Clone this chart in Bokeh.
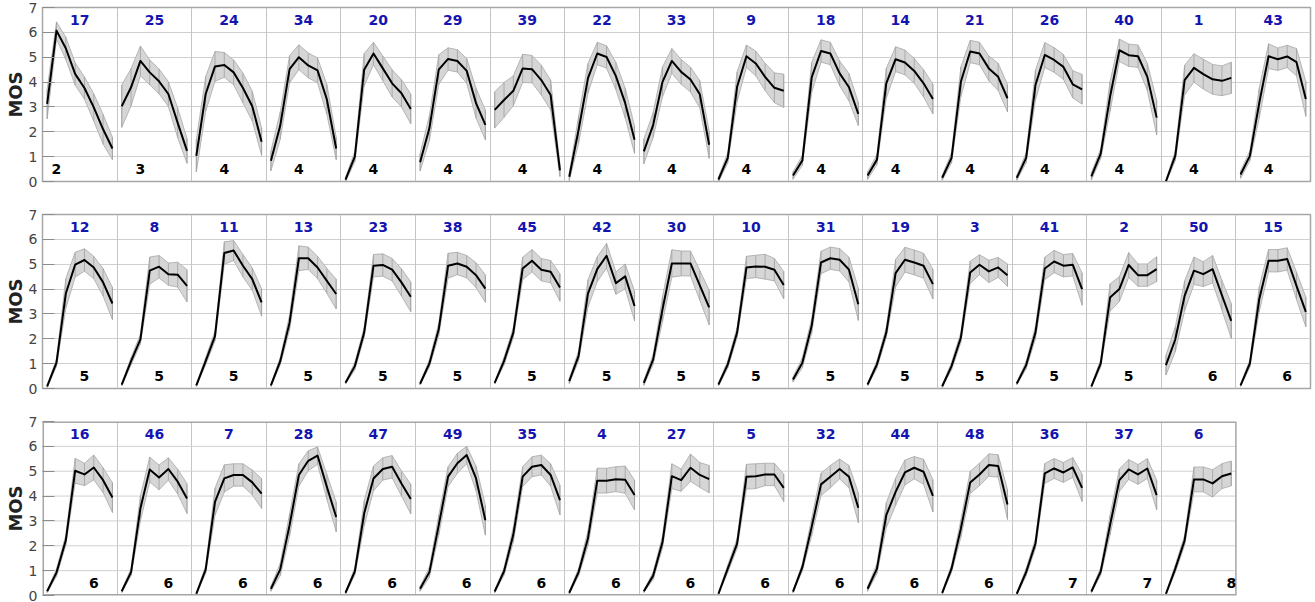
from bokeh.plotting import figure
from bokeh.layouts import column
from bokeh.models import Range1d, FixedTicker, Grid
from bokeh.core.properties import value
from bokeh.embed import file_html
from bokeh.resources import INLINE

# ---------------- data ----------------
row1_ids = [17, 25, 24, 34, 20, 29, 39, 22, 33, 9, 18, 14, 21, 26, 40, 1, 43]
row1_marks = [2, 3, 4, 4, 4, 4, 4, 4, 4, 4, 4, 4, 4, 4, 4, 4, 4]
row1_mos = [
    [3.12, 6.07, 5.36, 4.33, 3.76, 2.98, 2.10, 1.33],
    [3.03, 3.79, 4.85, 4.39, 4.03, 3.52, 2.36, 1.23],
    [1.03, 3.52, 4.63, 4.69, 4.39, 3.76, 3.03, 1.60],
    [0.83, 2.25, 4.52, 5.00, 4.67, 4.47, 3.30, 1.33],
    [0.08, 1.00, 4.50, 5.15, 4.55, 3.95, 3.55, 2.92],
    [0.77, 2.15, 4.50, 4.93, 4.85, 4.45, 3.15, 2.28],
    [2.88, 3.28, 3.65, 4.55, 4.52, 4.08, 3.48, 0.45],
    [0.19, 2.08, 4.15, 5.15, 5.01, 4.24, 3.15, 1.68],
    [1.21, 2.28, 4.01, 4.85, 4.41, 4.10, 3.51, 1.48],
    [0.08, 0.95, 3.81, 5.04, 4.75, 4.21, 3.77, 3.65],
    [0.24, 0.85, 4.19, 5.25, 5.15, 4.35, 3.79, 2.72],
    [0.24, 0.88, 3.95, 4.92, 4.79, 4.45, 3.95, 3.32],
    [0.15, 0.95, 4.01, 5.23, 5.15, 4.55, 4.21, 3.35],
    [0.15, 0.95, 3.88, 5.09, 4.89, 4.61, 3.91, 3.71],
    [0.21, 1.12, 3.41, 5.28, 5.08, 5.04, 4.21, 2.57],
    [0.01, 1.04, 4.08, 4.57, 4.32, 4.11, 4.05, 4.17],
    [0.28, 1.03, 3.15, 5.04, 4.92, 5.03, 4.80, 3.32],
]
row1_ci = [
    [0.60, 0.35, 0.45, 0.45, 0.45, 0.55, 0.60, 0.45],
    [0.85, 0.75, 0.60, 0.50, 0.50, 0.50, 0.60, 0.50],
    [0.65, 0.70, 0.60, 0.50, 0.50, 0.60, 0.60, 0.55],
    [0.40, 0.55, 0.55, 0.50, 0.50, 0.50, 0.60, 0.45],
    [0.10, 0.20, 0.65, 0.45, 0.50, 0.55, 0.55, 0.60],
    [0.35, 0.50, 0.60, 0.45, 0.45, 0.50, 0.60, 0.60],
    [0.73, 0.70, 0.60, 0.57, 0.55, 0.60, 0.60, 0.25],
    [0.15, 0.55, 0.60, 0.45, 0.45, 0.55, 0.60, 0.55],
    [0.50, 0.50, 0.60, 0.50, 0.50, 0.50, 0.55, 0.55],
    [0.10, 0.20, 0.60, 0.45, 0.50, 0.55, 0.60, 0.67],
    [0.15, 0.20, 0.60, 0.45, 0.45, 0.50, 0.55, 0.47],
    [0.15, 0.20, 0.60, 0.50, 0.50, 0.50, 0.55, 0.60],
    [0.10, 0.20, 0.60, 0.45, 0.45, 0.50, 0.55, 0.55],
    [0.10, 0.20, 0.60, 0.50, 0.50, 0.50, 0.55, 0.60],
    [0.15, 0.20, 0.60, 0.45, 0.45, 0.45, 0.55, 0.70],
    [0.05, 0.20, 0.60, 0.57, 0.60, 0.60, 0.60, 0.63],
    [0.15, 0.20, 0.60, 0.50, 0.45, 0.45, 0.55, 0.70],
]

row2_ids = [12, 8, 11, 13, 23, 38, 45, 42, 30, 10, 31, 19, 3, 41, 2, 50, 15]
row2_marks = [5, 5, 5, 5, 5, 5, 5, 5, 5, 5, 5, 5, 5, 5, 5, 6, 6]
row2_mos = [
    [0.09, 1.04, 3.82, 4.98, 5.17, 4.87, 4.27, 3.42],
    [0.16, 1.10, 1.98, 4.74, 4.90, 4.60, 4.58, 4.13],
    [0.13, 1.10, 2.11, 5.45, 5.55, 4.94, 4.40, 3.46],
    [0.13, 1.10, 2.65, 5.24, 5.24, 4.87, 4.33, 3.80],
    [0.23, 0.90, 2.25, 4.94, 4.97, 4.78, 4.27, 3.69],
    [0.19, 1.01, 2.38, 4.94, 5.03, 4.90, 4.56, 4.02],
    [0.23, 1.10, 2.25, 4.83, 5.14, 4.78, 4.70, 4.06],
    [0.30, 1.31, 3.82, 4.80, 5.34, 4.24, 4.51, 3.32],
    [0.23, 1.17, 3.19, 5.03, 5.03, 5.03, 4.15, 3.26],
    [0.16, 0.97, 2.25, 4.87, 4.91, 4.90, 4.78, 4.16],
    [0.36, 1.04, 2.52, 5.07, 5.24, 5.18, 4.78, 3.39],
    [0.16, 0.97, 2.25, 4.64, 5.18, 5.07, 4.94, 4.20],
    [0.09, 0.90, 2.05, 4.67, 4.98, 4.71, 4.87, 4.56],
    [0.20, 0.94, 2.25, 4.83, 5.11, 4.94, 4.98, 4.00],
    [0.09, 1.01, 3.66, 4.00, 4.97, 4.56, 4.56, 4.80],
    [0.94, 1.98, 3.73, 4.74, 4.60, 4.80, 3.75, 2.72],
    [0.13, 1.01, 3.59, 5.14, 5.14, 5.21, 4.13, 3.08],
]
row2_ci = [
    [0.05, 0.15, 0.60, 0.50, 0.45, 0.45, 0.55, 0.65],
    [0.05, 0.15, 0.20, 0.55, 0.45, 0.45, 0.50, 0.65],
    [0.05, 0.15, 0.20, 0.45, 0.40, 0.45, 0.45, 0.55],
    [0.05, 0.15, 0.30, 0.50, 0.45, 0.45, 0.50, 0.60],
    [0.05, 0.15, 0.20, 0.45, 0.45, 0.45, 0.55, 0.60],
    [0.05, 0.15, 0.25, 0.50, 0.45, 0.45, 0.50, 0.55],
    [0.05, 0.15, 0.20, 0.45, 0.45, 0.45, 0.45, 0.55],
    [0.10, 0.20, 0.55, 0.50, 0.50, 0.45, 0.50, 0.60],
    [0.10, 0.20, 0.50, 0.55, 0.50, 0.50, 0.60, 0.70],
    [0.05, 0.15, 0.20, 0.45, 0.45, 0.50, 0.45, 0.55],
    [0.10, 0.20, 0.30, 0.45, 0.45, 0.45, 0.50, 0.65],
    [0.05, 0.15, 0.20, 0.55, 0.50, 0.50, 0.50, 0.60],
    [0.05, 0.15, 0.20, 0.45, 0.40, 0.45, 0.40, 0.45],
    [0.05, 0.15, 0.25, 0.45, 0.45, 0.45, 0.45, 0.65],
    [0.05, 0.15, 0.55, 0.50, 0.50, 0.45, 0.45, 0.50],
    [0.40, 0.50, 0.60, 0.55, 0.50, 0.55, 0.60, 0.70],
    [0.05, 0.15, 0.50, 0.45, 0.45, 0.45, 0.55, 0.60],
]

row3_ids = [16, 46, 7, 28, 47, 49, 35, 4, 27, 5, 32, 44, 48, 36, 37, 6]
row3_marks = [6, 6, 6, 6, 6, 6, 6, 6, 6, 6, 6, 6, 6, 7, 7, 8]
row3_mos = [
    [0.17, 0.92, 2.22, 5.02, 4.87, 5.15, 4.64, 3.94],
    [0.17, 0.94, 3.50, 5.07, 4.75, 5.09, 4.58, 3.90],
    [0.07, 1.04, 3.77, 4.71, 4.85, 4.85, 4.55, 4.10],
    [0.27, 1.05, 2.83, 4.85, 5.42, 5.63, 4.37, 3.16],
    [0.11, 0.97, 3.30, 4.71, 5.09, 5.18, 4.51, 3.88],
    [0.27, 0.94, 2.83, 4.78, 5.32, 5.65, 4.71, 3.03],
    [0.16, 0.97, 2.45, 4.78, 5.18, 5.25, 4.85, 3.84],
    [0.11, 0.94, 2.29, 4.62, 4.62, 4.68, 4.66, 4.04],
    [0.17, 0.80, 2.15, 4.80, 4.64, 5.14, 4.85, 4.68],
    [0.07, 1.08, 2.09, 4.78, 4.80, 4.87, 4.87, 4.33],
    [0.16, 1.14, 2.76, 4.47, 4.78, 5.09, 4.78, 3.53],
    [0.27, 1.08, 3.23, 4.17, 4.95, 5.14, 4.98, 4.01],
    [0.11, 1.08, 2.69, 4.55, 4.87, 5.25, 5.21, 3.66],
    [0.07, 0.94, 2.09, 4.91, 5.11, 4.95, 5.15, 4.33],
    [0.16, 0.97, 2.83, 4.64, 5.07, 4.87, 5.11, 4.04],
    [0.07, 1.08, 2.22, 4.67, 4.67, 4.51, 4.80, 4.91],
]
row3_ci = [
    [0.05, 0.15, 0.20, 0.50, 0.45, 0.50, 0.50, 0.60],
    [0.05, 0.15, 0.50, 0.50, 0.50, 0.45, 0.50, 0.60],
    [0.05, 0.15, 0.55, 0.55, 0.45, 0.45, 0.50, 0.60],
    [0.10, 0.25, 0.45, 0.45, 0.40, 0.35, 0.50, 0.60],
    [0.05, 0.15, 0.50, 0.50, 0.45, 0.45, 0.50, 0.60],
    [0.10, 0.20, 0.40, 0.40, 0.40, 0.35, 0.50, 0.60],
    [0.05, 0.15, 0.30, 0.40, 0.40, 0.40, 0.45, 0.60],
    [0.05, 0.15, 0.30, 0.50, 0.50, 0.50, 0.55, 0.60],
    [0.05, 0.15, 0.25, 0.50, 0.45, 0.55, 0.50, 0.55],
    [0.05, 0.15, 0.20, 0.50, 0.50, 0.45, 0.45, 0.55],
    [0.05, 0.15, 0.35, 0.45, 0.45, 0.40, 0.45, 0.60],
    [0.10, 0.20, 0.50, 0.55, 0.50, 0.45, 0.50, 0.65],
    [0.05, 0.15, 0.35, 0.45, 0.45, 0.45, 0.45, 0.60],
    [0.05, 0.15, 0.20, 0.40, 0.40, 0.40, 0.40, 0.55],
    [0.05, 0.15, 0.40, 0.45, 0.40, 0.40, 0.40, 0.60],
    [0.05, 0.15, 0.20, 0.50, 0.50, 0.55, 0.50, 0.50],
]

y_ticks = [0, 1, 2, 3, 4, 5, 6, 7]
N_PTS = 8
N_SLOTS = 17          # panels per full row (all frames share this width)
FONT = "DejaVu Sans"
GRID_COLOR = "#d0d0d0"
FRAME_COLOR = "#a6a6a6"


def make_row(ids, marks, mos, ci, height, top, bottom):
    n = len(ids)
    xmax = n * N_PTS
    p = figure(width=1315, height=height, output_backend="svg", toolbar_location=None,
               x_axis_type=None, x_range=Range1d(0, N_SLOTS * N_PTS), y_range=Range1d(0, 7),
               min_border_left=42, min_border_right=5,
               min_border_top=top, min_border_bottom=bottom)
    p.background_fill_color = "white"
    p.border_fill_color = "white"

    ax = p.yaxis[0]
    ax.ticker = FixedTicker(ticks=y_ticks)
    ax.axis_label = "MOS"
    ax.axis_label_text_font = FONT
    ax.axis_label_text_font_style = "bold"
    ax.axis_label_text_font_size = "18px"
    ax.axis_label_text_color = "#222222"
    ax.axis_label_standoff = 0
    ax.major_label_text_font = FONT
    ax.major_label_text_font_size = "14px"
    ax.major_label_text_color = "#444444"
    ax.major_label_standoff = 5
    ax.major_tick_in = 12
    ax.major_tick_out = 0
    ax.major_tick_line_color = "#8c8c8c"
    ax.minor_tick_line_color = None
    ax.axis_line_color = None

    xg = Grid(dimension=0, ticker=FixedTicker(ticks=[k * N_PTS for k in range(1, n)]),
              grid_line_color="#c4c4c4", grid_line_width=1)
    p.add_layout(xg)

    if n == N_SLOTS:
        p.outline_line_color = FRAME_COLOR
        p.outline_line_width = 1.5
        p.ygrid.ticker = FixedTicker(ticks=y_ticks)
        p.ygrid.grid_line_color = GRID_COLOR
        p.ygrid.grid_line_width = 1
    else:
        # shorter row: grid and frame stop after the last panel
        p.outline_line_color = None
        p.ygrid.grid_line_color = None
        inner = y_ticks[1:-1]
        p.segment(x0=[0] * len(inner), y0=inner, x1=[xmax] * len(inner), y1=inner,
                  line_color=GRID_COLOR, line_width=1)
        lo_y, hi_y = y_ticks[0], y_ticks[-1]
        p.segment(x0=[0, 0, 0], y0=[lo_y, hi_y, lo_y], x1=[xmax, xmax, 0], y1=[lo_y, hi_y, hi_y],
                  line_color=FRAME_COLOR, line_width=3)
        p.segment(x0=[xmax], y0=[lo_y], x1=[xmax], y1=[hi_y],
                  line_color=FRAME_COLOR, line_width=1.5)

    for k in range(n):
        xs = [k * N_PTS + i + 0.5 for i in range(N_PTS)]
        m = mos[k]
        c = ci[k]
        lo = [a - b for a, b in zip(m, c)]
        hi = [a + b for a, b in zip(m, c)]
        p.patch(xs + xs[::-1], hi + lo[::-1], fill_color="#d6d6d6", fill_alpha=1.0,
                line_color="#a8a8a8", line_width=0.8)
        p.segment(x0=xs, y0=lo, x1=xs, y1=hi, line_color="#a0a0a0", line_width=0.8)
        p.line(xs, m, line_color="black", line_width=2, line_join="round")

    tx = [k * N_PTS + N_PTS / 2 for k in range(n)]
    p.text(x=tx, y=[6.5] * n, text=[str(v) for v in ids], text_font=value(FONT),
           text_font_style="bold", text_font_size="14px", text_color="#1414b0",
           text_align="center", text_baseline="middle")
    bx = [k * N_PTS + marks[k] - 0.5 for k in range(n)]
    p.text(x=bx, y=[0.5] * n, text=[str(v) for v in marks], text_font=value(FONT),
           text_font_style="bold", text_font_size="14px", text_color="black",
           text_align="center", text_baseline="middle")
    return p


f1 = make_row(row1_ids, row1_marks, row1_mos, row1_ci, 207, 7, 26)
f2 = make_row(row2_ids, row2_marks, row2_mos, row2_ci, 207, 7, 26)
f3 = make_row(row3_ids, row3_marks, row3_mos, row3_ci, 188, 7, 7)

layout = column(f1, f2, f3, spacing=0)
open("out.html", "w").write(file_html(layout, INLINE))
